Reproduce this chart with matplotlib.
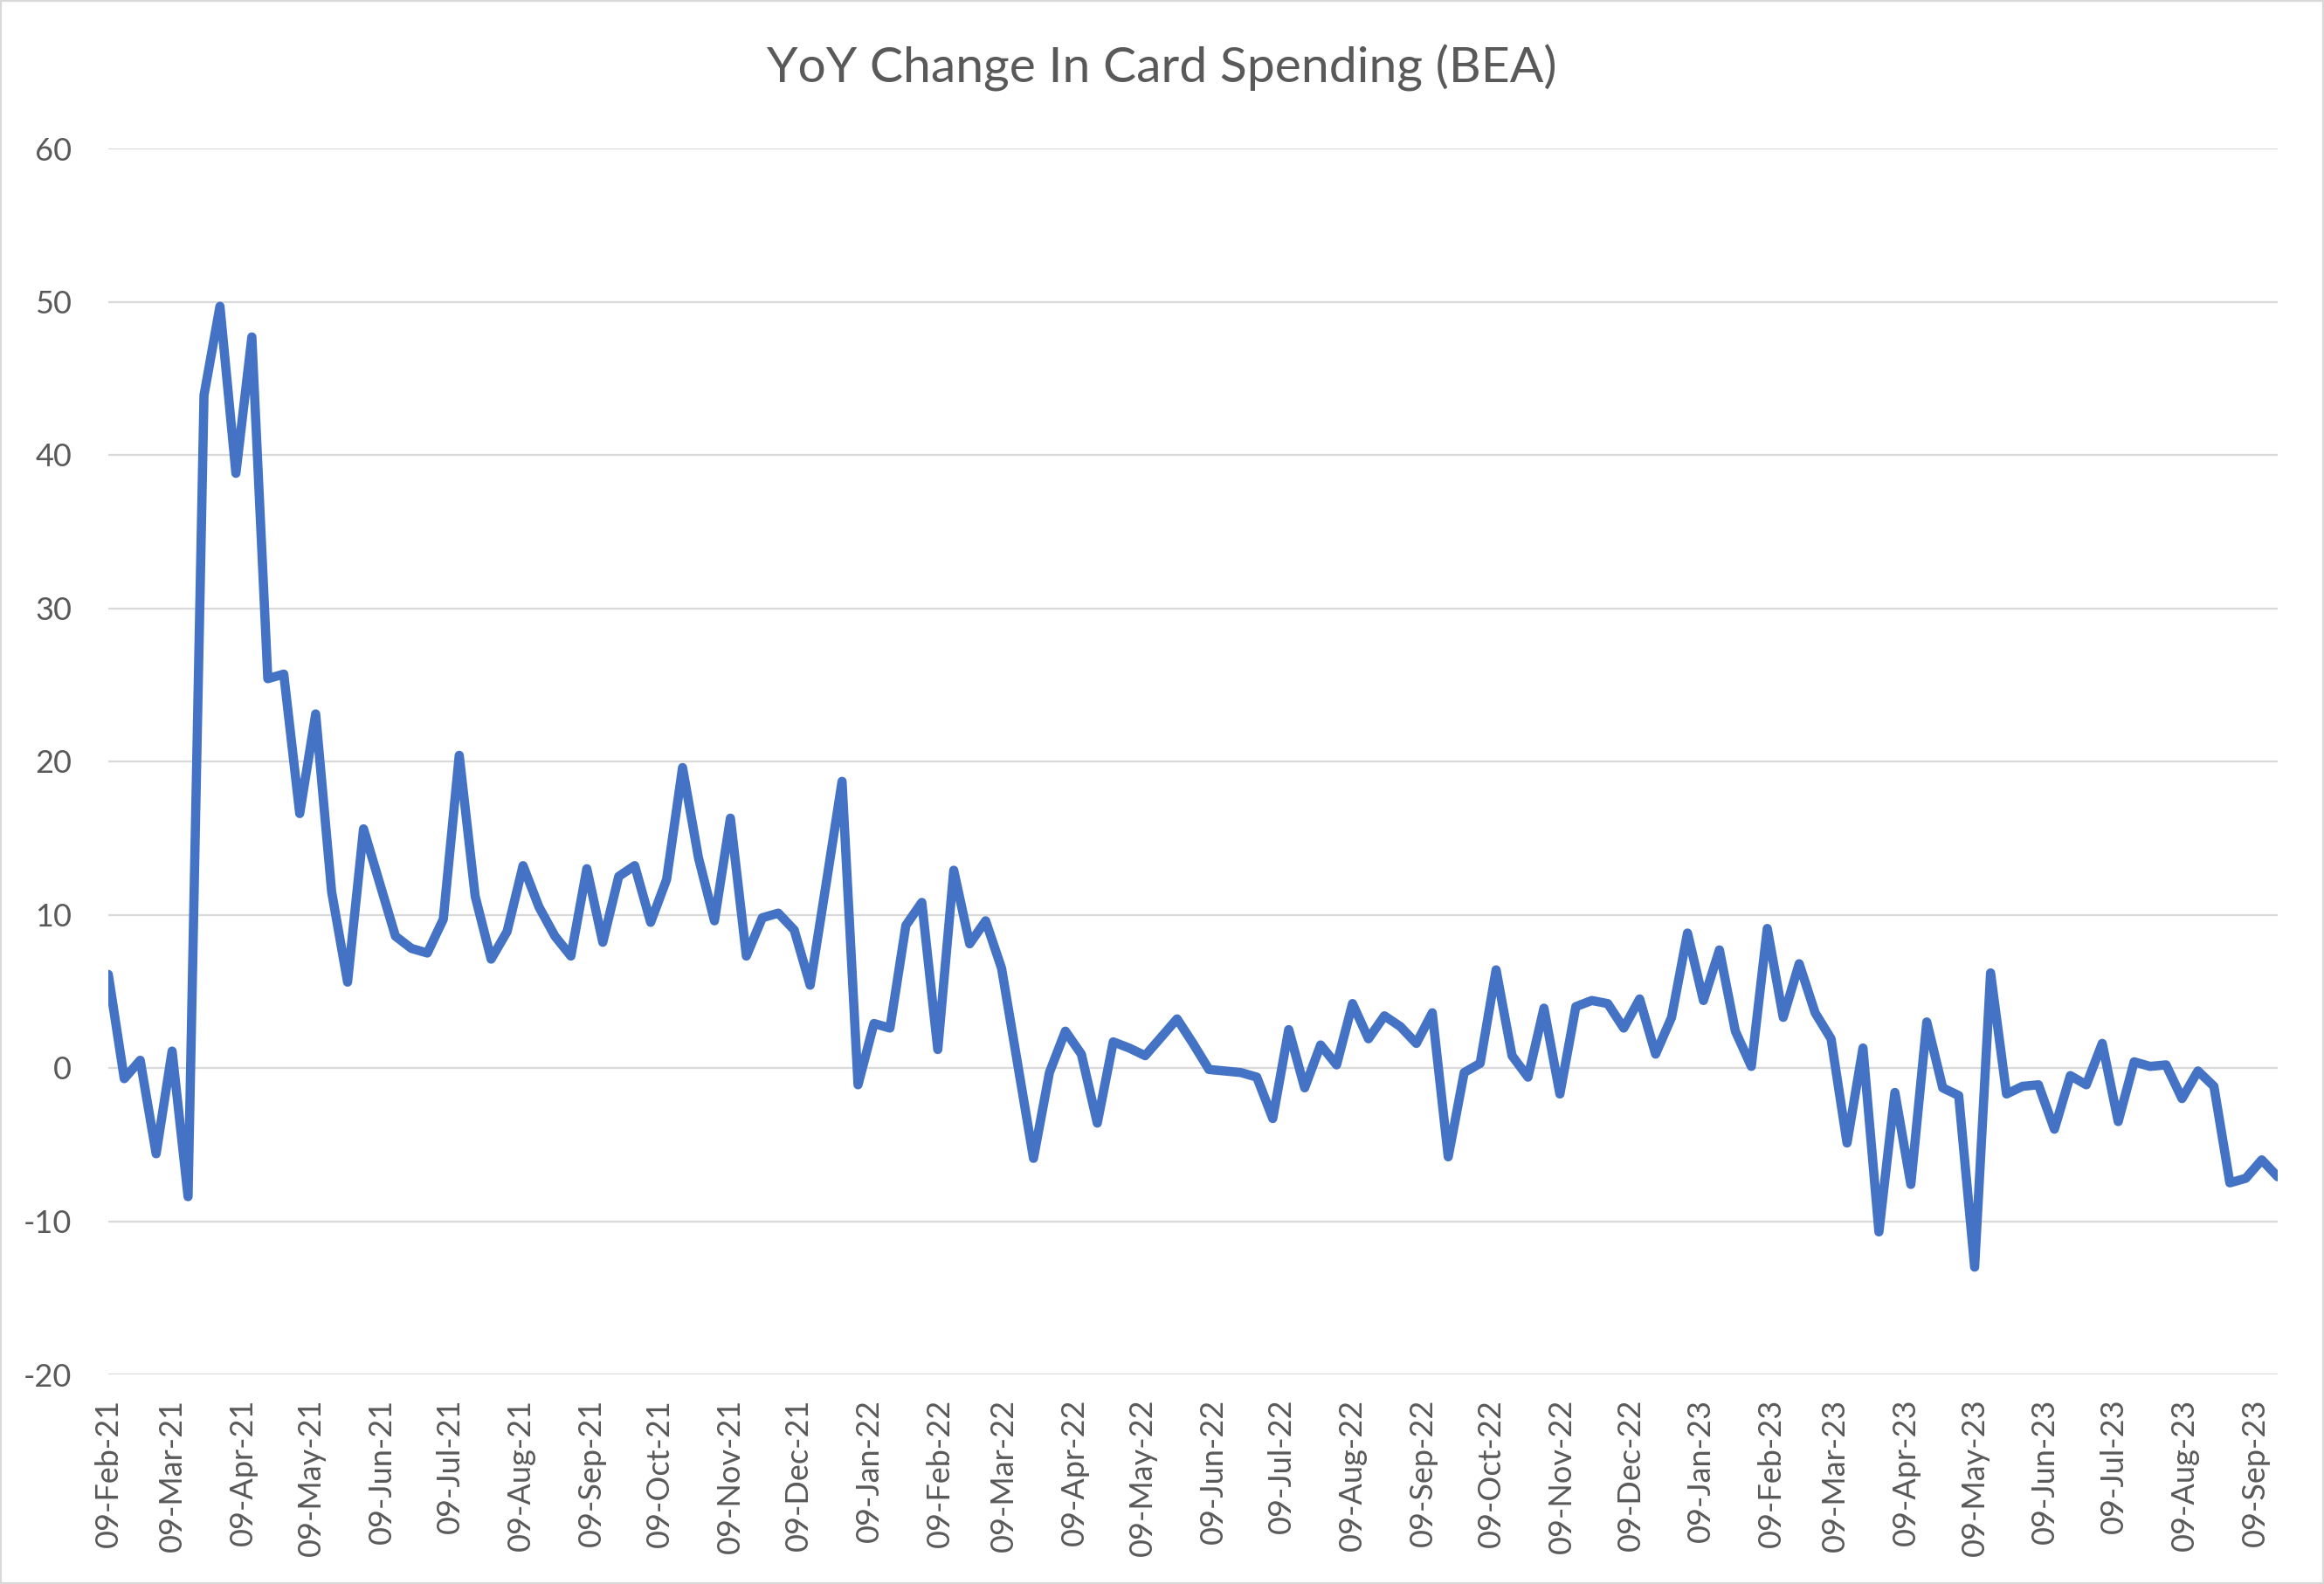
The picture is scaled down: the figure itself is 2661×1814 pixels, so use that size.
import pandas as pd
import matplotlib.pyplot as plt
import matplotlib.dates as mdates
from matplotlib.patches import Rectangle

plt.rcParams['font.family'] = ['Lato', 'DejaVu Sans']
plt.rcParams['axes.unicode_minus'] = False  # plain hyphen like Excel

# weekly readings, starting 09-Feb-21
start_date = '2021-02-09'
yoy_change = [
    6.1, -0.7, 0.5, -5.6, 1.1, -8.4, 43.9, 49.7, 38.8, 47.7,
    25.4, 25.7, 16.6, 23.1, 11.5, 5.6, 15.6, 12.1, 8.6, 7.8,
    7.5, 9.7, 20.4, 11.2, 7.1, 8.9, 13.2, 10.5, 8.6, 7.3,
    13.0, 8.2, 12.5, 13.2, 9.5, 12.3, 19.6, 13.7, 9.6, 16.3,
    7.3, 9.8, 10.1, 9.0, 5.4, 12.0, 18.7, -1.1, 2.9, 2.6,
    9.3, 10.8, 1.2, 12.9, 8.1, 9.6, 6.5, 0.3, -5.9, -0.3,
    2.4, 0.9, -3.6, 1.7, 1.3, 0.8, 2.0, 3.2, 1.6, -0.1,
    -0.2, -0.3, -0.6, -3.3, 2.5, -1.3, 1.5, 0.2, 4.2, 1.9,
    3.4, 2.7, 1.6, 3.6, -5.8, -0.3, 0.3, 6.4, 0.8, -0.6,
    3.9, -1.7, 4.0, 4.4, 4.2, 2.6, 4.5, 0.9, 3.3, 8.8,
    4.4, 7.7, 2.4, 0.1, 9.1, 3.3, 6.8, 3.6, 1.9, -4.9,
    1.3, -10.7, -1.6, -7.6, 3.0, -1.3, -1.8, -13.0, 6.2, -1.7,
    -1.2, -1.1, -4.0, -0.5, -1.1, 1.6, -3.5, 0.4, 0.1, 0.2,
    -2.0, -0.2, -1.2, -7.5, -7.2, -6.0, -7.1,
]
dates = pd.date_range(start_date, periods=len(yoy_change), freq='7D')
y_ticks = [-20, -10, 0, 10, 20, 30, 40, 50, 60]

W, H = 2661, 1814
fig = plt.figure(figsize=(W / 100, H / 100), dpi=100)
ax = fig.add_axes([124 / W, 1 - 1574 / H, (2608 - 124) / W, (1574 - 170) / H])

ax.plot(dates, yoy_change, color='#4472C4', linewidth=7.6,
        solid_joinstyle='round', solid_capstyle='round', zorder=3)

ax.set_ylim(-20, 60)
ax.set_yticks(y_ticks)
ax.set_xlim(dates[0], dates[-1])
ax.grid(axis='y', color='#d9d9d9', linewidth=1.6)
ax.set_axisbelow(True)
for s in ax.spines.values():
    s.set_visible(False)

ax.xaxis.set_major_locator(mdates.MonthLocator(bymonthday=9))
ax.xaxis.set_major_formatter(mdates.DateFormatter('%d-%b-%y'))
ax.tick_params(axis='x', length=0, pad=20, labelsize=26, labelcolor='#595959',
               labelrotation=90)
ax.tick_params(axis='y', length=0, pad=30, labelsize=26, labelcolor='#595959')

fig.text(0.5, 1 - 78 / H, 'YoY Change In Card Spending (BEA)', ha='center', va='center',
         fontsize=41, color='#595959')

fig.patches.append(Rectangle((0, 0), 1, 1, transform=fig.transFigure, fill=False,
                             edgecolor='#d9d9d9', linewidth=3))

fig.savefig('out.png', dpi=100)
